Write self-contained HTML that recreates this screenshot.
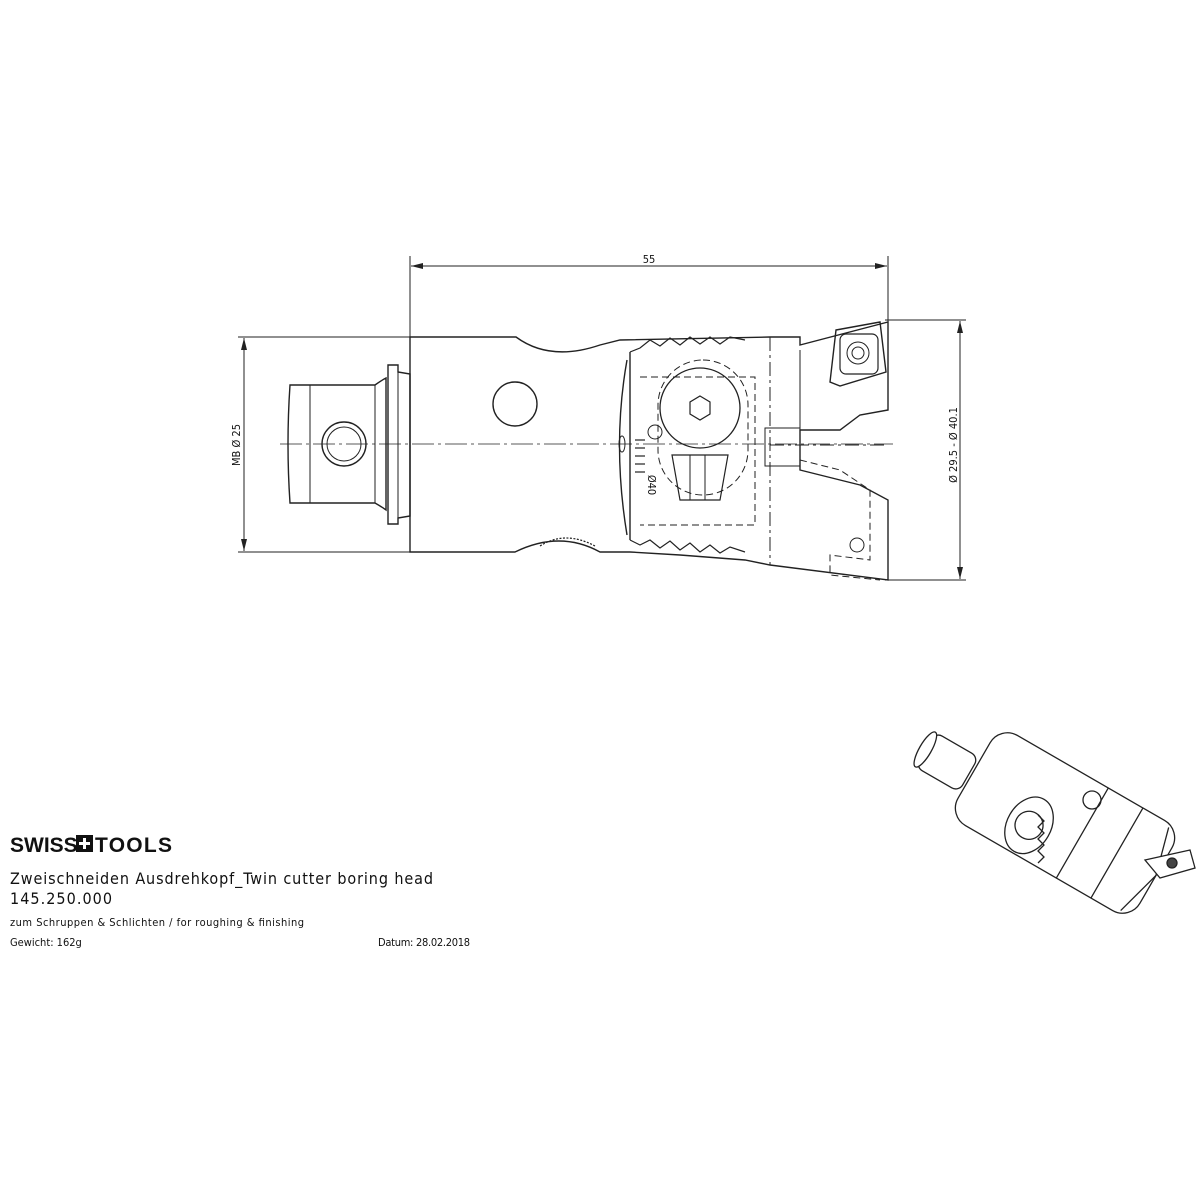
<!DOCTYPE html>
<html><head><meta charset="utf-8"><style>
html,body{margin:0;padding:0;background:#fff;}
svg{display:block}
text{font-family:"DejaVu Sans Condensed","Liberation Sans",sans-serif;fill:#111}
</style></head><body>
<svg width="1200" height="1200" viewBox="0 0 1200 1200" xmlns="http://www.w3.org/2000/svg">
<defs>
<marker id="a" markerWidth="12" markerHeight="8" refX="12" refY="4" orient="auto-start-reverse" markerUnits="userSpaceOnUse"><path d="M0,1 L12,4 L0,7 Z" fill="#222"/></marker>
</defs>
<g stroke="#222" fill="none" stroke-width="1">
<line x1="410" y1="256" x2="410" y2="337"/>
<line x1="888" y1="256" x2="888" y2="322"/>
<line x1="411" y1="266" x2="887" y2="266" marker-start="url(#a)" marker-end="url(#a)"/>
<line x1="238" y1="337" x2="410" y2="337"/>
<line x1="238" y1="552" x2="410" y2="552"/>
<line x1="244" y1="338" x2="244" y2="551" marker-start="url(#a)" marker-end="url(#a)"/>
<line x1="885" y1="320" x2="966" y2="320"/>
<line x1="885" y1="580" x2="966" y2="580"/>
<line x1="960" y1="321" x2="960" y2="579" marker-start="url(#a)" marker-end="url(#a)"/>
<line x1="280" y1="444" x2="893" y2="444" stroke-dasharray="22,4,3,4" stroke-width="0.8"/>
<path d="M290,385 L375,385 Q382,380 386,378 L386,510 Q382,507 375,503 L290,503 Q286,444 290,385 Z" stroke-width="1.4"/>
<line x1="310" y1="385" x2="310" y2="503"/>
<line x1="375" y1="385" x2="375" y2="503"/>
<circle cx="344" cy="444" r="22" stroke-width="1.4"/>
<circle cx="344" cy="444" r="17"/>
<path d="M388,365 L398,365 L398,372 L410,374 L410,516 L398,518 L398,524 L388,524 Z" stroke-width="1.4"/>
<line x1="398" y1="372" x2="398" y2="518"/>
<path d="M410,337 L516,337 Q550,362 600,345 L620,340 L770,337 L800,337 L800,345 L888,322 L888,410 L860,415 L840,430 L800,430 L800,470 L840,480 L860,485 L888,500 L888,580 L770,565 L745,560 L680,555 L630,552 L600,552 Q560,530 515,552 L410,552 Z" stroke-width="1.4"/>
<circle cx="515" cy="404" r="22" stroke-width="1.4"/>
<path d="M627,360 Q612,444 627,535" stroke-width="1.4"/>
<path d="M630,352 L630,540" stroke-width="1.4"/>
<path d="M630,352 L640,348 L650,340 L660,346 L670,338 L680,345 L690,337 L700,344 L710,337 L720,344 L730,337 L745,340" stroke-width="1.2"/>
<path d="M630,540 L640,545 L650,540 L660,548 L670,541 L680,550 L690,543 L700,552 L710,545 L720,553 L730,547 L745,552" stroke-width="1.2"/>
<path d="M640,377 L755,377 L755,525 L640,525" stroke-dasharray="7,4"/>
<rect x="658" y="360" width="90" height="135" rx="45" stroke-dasharray="7,4"/>
<ellipse cx="700" cy="408" rx="40" ry="40" stroke-width="1.3"/>
<polygon points="700,396 710,402 710,414 700,420 690,414 690,402" stroke-width="1.2"/>
<path d="M672,455 L728,455 L720,500 L680,500 Z" stroke-width="1.2"/>
<line x1="690" y1="455" x2="690" y2="500"/>
<line x1="705" y1="455" x2="705" y2="500"/>
<g stroke-width="1.2"><line x1="635" y1="440" x2="645" y2="440"/><line x1="635" y1="448" x2="645" y2="448"/><line x1="635" y1="456" x2="645" y2="456"/><line x1="635" y1="464" x2="645" y2="464"/><line x1="635" y1="472" x2="645" y2="472"/></g>
<ellipse cx="622" cy="444" rx="3" ry="8"/>
<circle cx="655" cy="432" r="7"/>
<path d="M540,546 Q565,530 595,546" stroke-width="1.2" stroke-dasharray="2,1.5"/>
<line x1="770" y1="337" x2="770" y2="565" stroke-dasharray="14,4,3,4"/>
<line x1="800" y1="350" x2="800" y2="430"/>
<line x1="770" y1="445" x2="888" y2="445" stroke-dasharray="14,4,3,4"/>
<rect x="765" y="428" width="35" height="38"/>
<path d="M800,460 L840,470 L870,490 L870,560 L830,555 L830,575 L880,580" stroke-dasharray="7,4"/>
<circle cx="857" cy="545" r="7"/>
<path d="M836,330 L880,322 L886,372 L840,386 L830,382 Z" stroke-width="1.4"/>
<rect x="840" y="334" width="38" height="40" rx="6" stroke-width="1.2"/>
<circle cx="858" cy="353" r="11"/>
<circle cx="858" cy="353" r="6"/>
</g>
<text x="649" y="263" font-size="11" text-anchor="middle">55</text>
<text transform="translate(240,445) rotate(-90)" font-size="11" text-anchor="middle">MB Ø 25</text>
<text transform="translate(957,445) rotate(-90)" font-size="11" text-anchor="middle">Ø 29.5  -  Ø 40.1</text>
<text transform="translate(648,485) rotate(90)" font-size="11" text-anchor="middle">Ø40</text>

<g stroke="#222" fill="#fff" stroke-width="1.3">
<g transform="translate(947,762) rotate(30)">
<rect x="-25" y="-20" width="50" height="40" rx="8"/>
<ellipse cx="-25" cy="0" rx="6" ry="20"/>
</g>
<g transform="translate(1065,823) rotate(30)">
<rect x="-105" y="-52" width="210" height="104" rx="20"/>
<ellipse cx="-30" cy="20" rx="22" ry="30" fill="none"/>
<circle cx="-30" cy="20" r="14" fill="none"/>
<path d="M20,-52 L20,52 M60,-52 L60,52 M92,-48 L105,0 L92,48" fill="none"/>
</g>
<path d="M1038,815 l6,6 l-6,6 l6,6 l-6,6 l6,6 l-6,6 l6,6 l-6,6" fill="none"/>
<path d="M1145,860 L1190,850 L1195,868 L1160,878 Z"/>
<circle cx="1172" cy="863" r="5" fill="#444"/>
<circle cx="1092" cy="800" r="9" fill="none"/>
</g>

<text x="10" y="852" font-weight="bold" font-size="21" style="font-family:'Liberation Sans',sans-serif">SWISS</text>
<rect x="76" y="835" width="17" height="17" fill="#111"/>
<path d="M84.5,838 v11 M79,843.5 h11" stroke="#fff" stroke-width="3"/>
<text x="95" y="852" font-weight="bold" font-size="21" textLength="77" style="font-family:'Liberation Sans',sans-serif">TOOLS</text>
<text x="10" y="884" font-size="16" textLength="423">Zweischneiden Ausdrehkopf_Twin cutter boring head</text>
<text x="10" y="904" font-size="16" textLength="102">145.250.000</text>
<text x="10" y="926" font-size="11" textLength="294">zum Schruppen &amp; Schlichten / for roughing &amp; finishing</text>
<text x="10" y="946" font-size="11">Gewicht: 162g</text>
<text x="378" y="946" font-size="11" textLength="92">Datum: 28.02.2018</text>
</svg>
</body></html>
